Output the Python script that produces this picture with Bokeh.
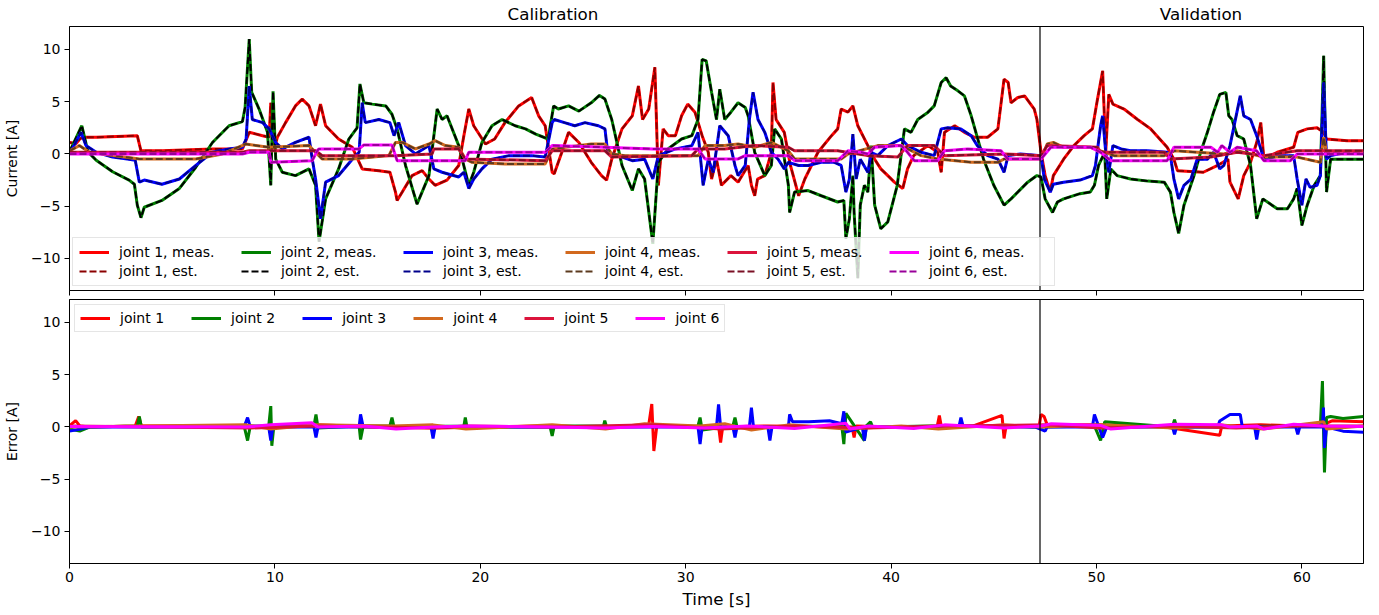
from bokeh.plotting import figure
from bokeh.models import Range1d, FixedTicker, Span, Legend, LegendItem, CustomLabelingPolicy, Div
from bokeh.layouts import column
from bokeh.embed import file_html
from bokeh.resources import INLINE

FONT = "DejaVu Sans"
T_END = 63.0
T_SPLIT = 47.25
Y_LO, Y_HI = -13.07, 12.2

panel_titles = ["Calibration", "Validation"]
joints = ["joint 1", "joint 2", "joint 3", "joint 4", "joint 5", "joint 6"]
meas_colors = ["#ff0000", "#008000", "#0000ff", "#d2691e", "#dc143c", "#ff00ff"]
est_colors = ["#8b0000", "#000000", "#00008b", "#5c3a1e", "#7b1025", "#990099"]
x_ticks = [0, 10, 20, 30, 40, 50, 60]
y_ticks = [-10, -5, 0, 5, 10]

meas_j1 = [(0,1.1),(0.32,1.0),(0.5,1.43),(0.65,1.6),(1.3,1.6),(3.3,1.75),(3.48,0.3),(4.5,0.3),(6.96,0.48),(8.42,0.48),(8.75,2.07),(9.4,1.75),(9.72,1.6),(9.8,4.9),(9.96,0.48),(10.12,1.6),(10.52,3.0),(11.0,4.6),(11.33,5.25),(11.66,4.6),(11.98,2.7),(12.22,4.77),(12.47,2.7),(13.1,1.43),(13.77,0.64),(14.25,-1.43),(15.06,-1.6),(15.6,-1.75),(15.87,-3.65),(15.95,-4.45),(16.2,-3.65),(16.68,-2.07),(17.17,-1.6),(17.5,-2.4),(17.8,-3.0),(18.38,-2.5),(18.95,-1.1),(19.2,1.75),(19.44,4.3),(19.68,2.7),(20.25,0.95),(20.7,1.43),(21.2,3.0),(21.87,4.6),(22.5,5.4),(22.84,3.65),(23.16,2.7),(23.5,-1.75),(23.6,-1.9),(23.97,0.16),(24.3,2.07),(24.8,1.1),(25.4,-0.8),(25.9,-2.07),(26.15,-2.5),(26.4,-0.5),(26.9,2.4),(27.4,3.65),(27.7,6.5),(27.9,3.3),(28.2,4.3),(28.5,8.3),(28.67,-3.0),(28.9,2.4),(29.15,1.75),(29.5,1.75),(29.8,3.65),(30.1,4.77),(30.45,4.0),(30.8,1.75),(31.1,0.16),(31.26,-2.4),(31.5,-0.5),(31.74,-3.0),(32.2,-2.07),(32.55,-2.7),(33.04,-1.1),(33.2,-3.0),(33.36,-4.0),(33.5,-2.4),(33.85,-2.07),(34.17,0.16),(34.25,6.84),(34.4,3.3),(34.8,2.07),(35.1,-1.1),(35.5,-4.0),(35.8,-2.4),(36.44,0.16),(37.1,1.75),(37.4,2.4),(37.57,4.3),(37.9,4.0),(38.14,4.6),(38.38,2.7),(38.87,0.8),(39.2,-0.5),(39.5,-1.43),(39.84,-2.07),(40.16,-2.7),(40.57,-3.3),(40.8,-1.43),(41.1,-0.16),(41.8,0.8),(42.27,0.16),(42.44,-1.75),(42.6,2.07),(43.1,2.7),(43.57,2.07),(44.05,1.6),(44.7,1.6),(45.2,2.4),(45.5,7.16),(45.7,6.84),(45.84,4.9),(46.17,5.4),(46.5,5.56),(46.97,4.3),(47.1,3.3),(47.3,0.16),(47.5,-2.07),(47.75,-3.65),(47.9,-2.07),(48.4,-0.5),(48.9,0.8),(49.4,1.75),(49.8,2.4),(50.05,5.25),(50.3,7.95),(50.45,0.16),(50.6,5.7),(50.8,4.77),(51.34,4.3),(52.0,3.3),(52.64,2.4),(53.44,0.64),(53.77,-0.5),(53.94,-1.6),(55.2,-1.75),(55.9,-1.1),(56.4,-0.5),(56.5,-2.7),(56.9,-4.3),(57.17,-2.07),(57.5,-0.8),(57.8,1.1),(58.0,3.0),(58.15,-0.5),(58.8,0.16),(59.6,0.64),(59.8,2.07),(60.26,2.4),(60.74,2.5),(61.06,2.07),(61.2,1.43),(62.2,1.27),(63,1.27)]
meas_j2 = [(0,0.2),(0.6,2.7),(0.9,0.2),(1.3,-0.6),(2.1,-1.7),(2.9,-2.5),(3.16,-2.9),(3.3,-4.9),(3.48,-6.1),(3.64,-5.1),(4.5,-4.45),(5.35,-3.3),(6.15,-1.27),(6.96,1.1),(7.77,2.7),(8.42,3.1),(8.55,4.45),(8.75,11.0),(8.87,5.9),(9.23,4.3),(9.64,2.07),(9.8,-3.0),(9.91,6.0),(10.04,-0.5),(10.36,-1.75),(11.0,-2.07),(11.66,-1.43),(11.98,-3.0),(12.15,-8.4),(12.47,-4.3),(13.1,-1.43),(13.6,1.43),(14.0,2.5),(14.14,6.7),(14.33,4.9),(14.74,4.77),(15.4,4.6),(15.7,3.8),(15.95,2.4),(16.36,-1.1),(16.92,-4.8),(17.5,-2.07),(17.9,4.3),(18.14,3.3),(18.38,3.65),(18.95,0.8),(19.44,-3.0),(19.68,-1.75),(20.08,1.1),(20.57,2.7),(21.06,3.3),(21.7,2.7),(22.2,2.4),(22.7,1.9),(23.3,1.43),(23.57,4.6),(23.8,4.3),(24.3,4.6),(24.8,4.1),(25.4,4.9),(25.8,5.6),(26.07,5.25),(26.4,3.3),(26.9,-1.1),(27.4,-3.5),(27.7,-1.43),(28.0,-2.4),(28.4,-8.6),(28.67,-0.8),(29.15,0.5),(29.8,1.43),(30.3,1.75),(30.6,3.3),(30.8,9.06),(31.0,8.9),(31.26,5.9),(31.5,3.3),(31.66,6.2),(31.9,3.3),(32.2,4.0),(32.55,4.9),(32.9,4.45),(33.04,3.65),(33.36,0.16),(33.85,-2.07),(34.17,-1.1),(34.33,2.4),(34.66,1.43),(35.0,-3.0),(35.06,-5.6),(35.3,-3.65),(35.96,-3.5),(36.6,-4.0),(37.4,-4.6),(37.7,-4.45),(37.8,-8.1),(37.97,-6.2),(38.14,-2.07),(38.2,-5.6),(38.38,-11.9),(38.5,-4.9),(38.7,-3.0),(38.87,-3.65),(39.03,0.8),(39.2,-4.9),(39.5,-7.16),(39.84,-6.5),(40.3,-3.0),(40.65,2.4),(40.97,2.07),(41.3,3.3),(41.8,4.0),(42.1,4.6),(42.44,6.84),(42.68,7.3),(42.9,6.5),(43.25,6.04),(43.57,5.56),(43.9,3.65),(44.5,-0.5),(45.0,-3.0),(45.5,-4.9),(45.84,-4.3),(46.65,-2.7),(47.1,-2.07),(47.3,-2.2),(47.5,-4.3),(47.86,-5.6),(48.1,-4.6),(48.4,-4.3),(49.2,-3.8),(49.7,-3.65),(49.9,-3.0),(50.1,-1.1),(50.4,0.16),(50.5,-4.3),(50.7,-1.43),(51.0,-2.07),(51.66,-2.4),(52.5,-2.6),(53.3,-2.7),(53.6,-3.65),(53.77,-5.6),(54.0,-7.6),(54.26,-4.9),(54.75,-2.07),(55.07,0.16),(55.4,2.07),(55.7,4.0),(56.0,5.7),(56.3,5.9),(56.44,3.65),(56.6,3.3),(56.85,1.75),(57.17,1.43),(57.5,-1.1),(57.8,-6.2),(58.1,-4.3),(58.8,-5.25),(59.3,-5.25),(59.6,-4.3),(59.77,-3.3),(60.0,-6.84),(60.26,-4.9),(60.6,-3.0),(60.9,-2.07),(61.06,9.4),(61.2,-3.65),(61.4,-0.5),(62.2,-0.5),(63,-0.5)]
meas_j3 = [(0,0.0),(0.56,2.07),(0.8,0.8),(1.3,0.16),(2.1,-0.3),(2.9,-0.5),(3.2,-0.6),(3.4,-2.7),(3.64,-2.5),(4.5,-2.9),(5.35,-2.4),(6.15,-1.1),(6.96,0.16),(7.77,0.48),(8.42,0.64),(8.6,1.43),(8.75,6.5),(8.9,3.3),(9.4,3.0),(9.72,2.4),(10.04,1.1),(10.36,0.48),(11.0,1.1),(11.66,1.6),(11.82,-0.5),(11.98,-2.4),(12.22,-6.2),(12.47,-2.7),(13.1,-2.07),(13.77,-0.5),(14.1,0.16),(14.25,4.9),(14.4,3.0),(15.06,3.3),(15.6,3.0),(15.8,1.75),(16.03,3.0),(16.36,0.8),(16.84,0.0),(17.5,0.8),(17.74,-1.43),(18.14,-1.75),(18.95,-2.2),(19.2,-1.75),(19.44,-3.3),(19.68,-2.4),(20.08,-1.43),(20.57,-0.5),(21.4,-0.16),(22.5,-0.16),(23.16,-0.3),(23.5,3.0),(23.6,3.3),(24.1,3.0),(24.6,2.7),(25.1,3.0),(25.75,2.7),(26.07,2.4),(26.2,0.16),(26.7,-0.16),(27.4,-0.64),(28.0,-0.5),(28.4,-2.4),(28.67,-0.16),(29.5,0.48),(30.3,0.8),(30.6,2.07),(30.85,-3.0),(31.1,-0.5),(31.34,-1.75),(31.66,2.7),(32.07,1.75),(32.4,-1.1),(32.55,-2.07),(32.9,-1.1),(33.1,3.3),(33.28,5.9),(33.52,3.3),(33.85,2.07),(34.17,0.16),(34.5,-0.5),(34.8,-1.43),(35.0,-0.8),(35.5,-1.1),(35.96,-1.1),(36.6,-0.8),(37.24,-0.8),(37.57,-1.1),(37.8,-3.65),(37.97,-2.4),(38.14,1.9),(38.3,-2.4),(38.5,-0.5),(38.87,-1.75),(39.03,0.16),(39.35,-0.16),(39.84,0.8),(40.5,1.43),(40.8,0.8),(41.46,0.16),(42.1,-0.16),(42.44,2.4),(42.76,2.5),(43.4,2.4),(43.9,1.75),(44.2,0.8),(44.7,-0.16),(45.2,-0.5),(45.5,-1.75),(45.7,-0.16),(46.3,0.0),(47.3,-0.16),(47.46,-2.4),(47.75,-3.65),(47.9,-2.9),(48.4,-2.7),(49.2,-2.5),(49.8,-2.07),(49.95,-1.1),(50.2,2.7),(50.3,3.65),(50.45,0.16),(50.6,-1.75),(50.8,0.8),(51.2,0.48),(51.66,0.3),(52.5,0.3),(53.44,0.16),(53.6,-0.16),(53.77,-2.4),(54.0,-4.3),(54.26,-3.0),(54.6,-2.4),(54.9,-0.5),(55.4,-0.5),(55.7,0.16),(56.0,-1.43),(56.2,-1.1),(56.5,0.8),(56.8,3.65),(57.0,5.56),(57.17,3.65),(57.5,3.3),(57.8,1.75),(58.15,-0.5),(58.97,-0.16),(59.6,-0.16),(59.77,-2.4),(60.0,-4.9),(60.2,-2.4),(60.4,-3.2),(60.74,-3.0),(60.9,-2.07),(61.06,6.84),(61.2,-0.5),(61.4,-0.16),(62.2,0.16),(63,0.16)]
meas_j4 = [(0,0.3),(0.48,0.8),(0.97,0.16),(3.4,-0.48),(6.15,-0.48),(7.45,0.0),(8.58,0.95),(9.7,0.64),(11.66,0.8),(12.3,-0.48),(13.77,-0.48),(15.55,-0.16),(15.87,1.1),(16.2,1.1),(16.84,0.48),(17.5,0.95),(17.8,1.27),(18.3,0.8),(18.95,0.64),(19.27,-0.48),(19.6,-0.8),(21.2,-0.95),(23.16,-0.95),(23.5,0.48),(25.4,0.95),(26.07,0.95),(26.4,0.0),(27.05,-0.16),(30.6,-0.16),(30.94,0.8),(31.9,0.8),(32.55,0.95),(33.36,0.64),(34.17,1.1),(35.0,0.3),(35.3,-0.48),(37.57,-0.48),(37.9,0.0),(39.35,0.8),(40.5,0.8),(41.46,-0.16),(42.27,-0.48),(43.9,-0.8),(45.2,-0.8),(45.5,-0.48),(47.3,-0.48),(47.6,0.95),(47.9,1.1),(48.4,0.64),(49.7,0.64),(50.2,0.3),(50.86,-0.16),(53.3,-0.16),(53.8,0.3),(56.2,0.0),(56.85,0.3),(58.15,-0.3),(59.77,-0.3),(60.9,-0.8),(61.06,1.6),(61.2,0.16),(63,0.16)]
meas_j5 = [(0,0.16),(8.42,0.16),(8.75,0.3),(12.0,0.3),(12.3,-0.16),(15.87,-0.16),(17.65,0.0),(17.74,0.48),(18.95,0.48),(19.27,-0.48),(23.16,-0.64),(23.5,0.3),(26.07,0.3),(26.4,-0.3),(30.3,-0.16),(30.6,0.48),(31.9,0.48),(33.36,0.8),(35.0,0.64),(35.3,0.3),(37.4,0.3),(38.87,-0.16),(40.33,-0.3),(40.8,0.8),(42.1,0.8),(42.6,-0.16),(45.5,0.0),(47.3,-0.16),(47.6,0.8),(50.05,0.64),(50.2,0.16),(53.3,0.16),(53.6,-0.48),(55.57,-0.3),(56.85,0.16),(58.15,-0.16),(59.77,0.3),(63,0.3)]
meas_j6 = [(0,0.0),(8.42,0.0),(8.75,0.16),(9.72,0.16),(9.8,-0.8),(11.82,-0.64),(12.06,0.3),(12.14,0.48),(14.1,0.48),(14.33,0.86),(15.7,0.86),(15.95,-0.64),(17.65,-0.64),(19.27,-0.64),(19.44,0.16),(23.16,0.16),(23.5,0.8),(26.07,0.64),(28.4,0.48),(30.6,0.48),(30.94,-0.48),(32.55,-0.48),(32.9,-0.16),(35.0,-0.16),(35.3,-0.64),(37.4,-0.64),(37.9,0.3),(38.55,0.16),(38.87,0.0),(39.2,0.64),(40.5,0.8),(40.8,0.16),(41.13,-0.64),(42.27,-0.64),(42.6,0.3),(43.73,0.48),(45.35,0.3),(45.68,-0.48),(47.3,-0.48),(47.78,0.64),(49.7,0.64),(50.2,0.16),(50.7,-0.64),(53.44,-0.64),(53.77,0.64),(55.57,0.64),(55.9,0.16),(56.1,0.8),(56.5,0.16),(56.85,0.64),(57.8,0.3),(58.15,-0.64),(59.44,-0.64),(59.77,0.0),(63,0.0)]

# estimated currents: the model output lies on top of the measurement in the chart
est_j1 = meas_j1
est_j2 = meas_j2
est_j3 = meas_j3
est_j4 = meas_j4
est_j5 = meas_j5
est_j6 = meas_j6

# estimation errors (time [s], error [A])
err_j1 = [(0,0.1),(0.3,0.6),(0.5,0.1),(1.0,0.0),(3.2,0.1),(3.37,1.0),(3.5,0.1),(6.0,0.1),(8.5,0.0),(12.0,0.2),(15.0,0.0),(18.0,-0.1),(20.0,0.0),(23.0,0.1),(26.0,0.0),(28.2,0.2),(28.35,2.2),(28.45,-2.3),(28.6,0.2),(30.0,0.0),(31.6,0.1),(31.7,-1.5),(31.8,0.0),(34.0,0.1),(38.1,0.0),(38.2,-1.0),(38.3,0.1),(40.0,0.0),(42.25,0.1),(42.35,1.1),(42.45,0.0),(44.0,0.1),(45.4,1.1),(45.5,-1.1),(45.6,0.1),(47.2,0.0),(47.3,1.2),(47.45,1.0),(47.6,0.2),(50.0,0.2),(53.0,0.1),(56.0,-0.8),(56.1,0.1),(58.0,0.2),(60.0,0.1),(61.0,0.2),(61.5,0.6),(63.0,0.5)]
err_j2 = [(0,-0.2),(0.5,-0.4),(1.0,0.0),(3.3,0.1),(3.4,1.0),(3.5,0.0),(6.0,0.1),(8.5,0.1),(8.67,-1.3),(8.8,0.1),(9.7,0.1),(9.8,2.0),(9.85,-1.8),(9.95,0.1),(11.9,0.1),(12.0,1.2),(12.1,-0.1),(14.1,0.1),(14.17,-1.2),(14.3,0.1),(15.6,0.1),(15.7,0.9),(15.8,0.0),(19.2,0.1),(19.27,0.9),(19.35,0.0),(23.4,0.0),(23.5,-0.85),(23.6,0.1),(26.0,0.1),(26.06,0.6),(26.15,0.0),(30.6,0.1),(30.7,0.9),(30.8,-0.3),(32.3,0.1),(32.4,0.9),(32.5,0.0),(37.6,0.1),(37.7,-1.65),(37.8,1.3),(38.7,-1.3),(38.8,0.1),(39.0,0.5),(39.1,0.0),(42.0,0.1),(47.3,0.0),(49.9,0.1),(50.2,-1.3),(50.4,0.5),(53.7,0.0),(53.8,0.7),(53.9,0.0),(60.9,0.1),(61.0,4.4),(61.1,-4.35),(61.2,0.9),(61.4,1.0),(62.0,0.8),(63.0,1.0)]
err_j3 = [(0,-0.4),(0.3,-0.3),(1.0,0.0),(8.5,0.0),(8.67,0.9),(8.8,0.0),(9.7,0.0),(9.8,-1.3),(9.9,0.0),(11.9,0.0),(12.0,-1.0),(12.1,0.0),(14.1,0.0),(14.17,1.2),(14.3,0.0),(17.6,0.0),(17.7,-1.1),(17.8,0.0),(30.6,0.0),(30.7,-1.65),(30.8,0.0),(31.5,0.0),(31.6,2.15),(31.7,0.0),(32.3,0.0),(32.4,-1.0),(32.5,0.0),(33.1,0.0),(33.2,1.85),(33.3,0.0),(34.0,0.0),(34.1,-1.3),(34.2,0.0),(35.0,0.0),(35.06,1.2),(35.2,0.5),(36.0,0.5),(37.0,0.6),(37.6,0.3),(37.7,1.5),(37.8,-0.5),(38.6,0.0),(38.7,-1.3),(38.8,0.0),(43.3,0.0),(43.4,0.9),(43.5,0.1),(47.0,0.0),(47.5,-0.4),(47.6,0.0),(49.8,0.0),(49.9,1.2),(50.3,-1.0),(50.5,0.0),(53.7,0.0),(53.8,-0.7),(53.9,0.0),(55.9,0.0),(56.0,0.57),(56.5,1.2),(57.0,1.2),(57.1,0.0),(57.7,0.0),(57.8,-1.2),(57.9,0.0),(59.7,0.0),(59.8,-0.7),(59.9,0.0),(61.0,0.0),(61.05,1.85),(61.1,-2.0),(61.2,0.0),(62.0,-0.4),(63.0,-0.5)]
err_j4 = [(0,0.0),(3.4,0.1),(8.6,0.2),(9.8,-0.2),(12.0,0.2),(15.7,0.1),(17.7,0.2),(19.3,-0.2),(23.5,0.2),(26.1,-0.2),(28.0,0.3),(30.7,0.1),(31.9,0.3),(33.2,-0.3),(35.0,0.2),(37.8,-0.2),(40.5,0.1),(42.3,-0.2),(45.5,0.2),(47.3,0.0),(50.2,0.2),(53.8,-0.1),(56.0,0.2),(58.1,-0.2),(61.06,0.5),(61.2,-0.2),(63,0.1)]
err_j5 = [(0,0.1),(8.8,-0.1),(12.0,0.1),(17.7,-0.1),(19.3,0.1),(23.5,0.0),(28.4,0.2),(31.7,-0.2),(35.3,0.1),(38.9,-0.1),(42.6,0.1),(47.6,0.2),(50.2,-0.1),(53.6,0.1),(56.8,-0.1),(59.8,0.1),(63,0.1)]
err_j6 = [(0,0.05),(8.6,0.0),(9.8,0.2),(11.8,0.4),(12.1,0.0),(14.3,0.1),(15.9,-0.2),(17.7,0.0),(19.4,0.1),(23.5,0.0),(26.0,-0.1),(28.4,0.05),(30.9,-0.1),(33.0,0.1),(35.3,-0.15),(37.8,0.35),(38.0,-0.2),(38.9,0.1),(41.1,-0.15),(42.6,0.2),(45.5,-0.1),(47.3,0.1),(47.8,0.3),(50.2,0.15),(50.7,-0.2),(53.8,0.25),(56.1,0.2),(56.5,0.0),(57.8,0.1),(58.15,-0.2),(59.6,0.25),(61.0,0.1),(63,0.05)]

meas_all = [meas_j1, meas_j2, meas_j3, meas_j4, meas_j5, meas_j6]
est_all = [est_j1, est_j2, est_j3, est_j4, est_j5, est_j6]
err_all = [err_j1, err_j2, err_j3, err_j4, err_j5, err_j6]

# layout (pixels)
FIG_W = 1371
BORDER_L = 67
BORDER_R = 8
FRAME_W = FIG_W - BORDER_L - BORDER_R
TITLE_H = 26


def xs(pts):
    return [p[0] for p in pts]


def ys(pts):
    return [p[1] for p in pts]


def style(p, show_xlabels):
    p.outline_line_color = "black"
    p.outline_line_width = 1
    p.xgrid.visible = False
    p.ygrid.visible = False
    p.background_fill_color = "white"
    p.border_fill_color = "white"
    for ax in (p.xaxis[0], p.yaxis[0]):
        ax.axis_line_color = "black"
        ax.major_tick_line_color = "black"
        ax.major_tick_out = 5
        ax.major_tick_in = 0
        ax.minor_tick_out = 0
        ax.minor_tick_in = 0
        ax.major_label_text_font = FONT
        ax.major_label_text_font_size = "14px"
        ax.major_label_text_color = "black"
        ax.axis_label_text_font = FONT
        ax.axis_label_text_font_style = "normal"
        ax.axis_label_text_color = "black"
    p.xaxis[0].ticker = FixedTicker(ticks=x_ticks)
    p.yaxis[0].ticker = FixedTicker(ticks=y_ticks)
    p.yaxis[0].major_label_overrides = {-10: "\u221210", -5: "\u22125"}
    p.yaxis[0].major_label_standoff = 4
    p.yaxis[0].axis_label_text_font_size = "14px"
    p.yaxis[0].axis_label_standoff = 8
    if not show_xlabels:
        p.xaxis[0].major_label_policy = CustomLabelingPolicy(code="return []")
        p.xaxis[0].major_label_text_font_size = "1px"
        p.xaxis[0].major_label_standoff = 0
    else:
        p.xaxis[0].major_label_standoff = 3
    p.add_layout(Span(location=T_SPLIT, dimension="height", line_color="black", line_width=1.2))


# ---------- panel titles (centered over each time section) ----------
centers = [BORDER_L + (T_SPLIT / 2) / T_END * FRAME_W,
           BORDER_L + ((T_SPLIT + T_END) / 2) / T_END * FRAME_W]
spans = "".join(
    f'<span style="position:absolute;left:{c:.1f}px;top:4px;transform:translateX(-50%);'
    f'white-space:nowrap;line-height:20px;">{t}</span>'
    for t, c in zip(panel_titles, centers))
title_div = Div(
    text=(f'<div style="position:relative;width:{FIG_W}px;height:{TITLE_H}px;'
          f"font-family:'{FONT}';font-size:16.7px;color:black;\">{spans}</div>"),
    width=FIG_W, height=TITLE_H, margin=0)

# ---------- top: currents ----------
p1 = figure(width=FIG_W, height=273, x_range=Range1d(0, T_END), y_range=Range1d(Y_LO, Y_HI),
            output_backend="svg", toolbar_location=None, title=None,
            min_border_left=BORDER_L, min_border_right=BORDER_R, min_border_top=0, min_border_bottom=7)
style(p1, False)
p1.yaxis[0].axis_label = "Current [A]"

items1 = []
for j in range(6):
    rm = p1.line(xs(meas_all[j]), ys(meas_all[j]), line_color=meas_colors[j], line_width=3)
    re = p1.line(xs(est_all[j]), ys(est_all[j]), line_color=est_colors[j], line_width=2, line_dash="7 3")
    items1.append(LegendItem(label=joints[j] + ", meas.", renderers=[rm]))
    items1.append(LegendItem(label=joints[j] + ", est.", renderers=[re]))

leg1 = Legend(items=items1, location=(3, 4), ncols=6, orientation="vertical",
              label_text_font=FONT, label_text_font_size="14px", label_text_color="black",
              glyph_width=30, glyph_height=16, label_height=16, label_width=119,
              label_standoff=10, spacing=3, padding=6, margin=0,
              background_fill_color="white", background_fill_alpha=0.8,
              border_line_color="#cccccc", border_line_width=1)
p1.add_layout(leg1)

# ---------- bottom: errors ----------
p2 = figure(width=FIG_W, height=314, x_range=p1.x_range, y_range=Range1d(Y_LO, Y_HI),
            output_backend="svg", toolbar_location=None, title=None,
            min_border_left=BORDER_L, min_border_right=BORDER_R, min_border_top=0, min_border_bottom=50)
style(p2, True)
p2.yaxis[0].axis_label = "Error [A]"
p2.xaxis[0].axis_label = "Time [s]"
p2.xaxis[0].axis_label_text_font_size = "16.7px"
p2.xaxis[0].axis_label_standoff = 4

items2 = []
for j in range(6):
    r = p2.line(xs(err_all[j]), ys(err_all[j]), line_color=meas_colors[j], line_width=3)
    items2.append(LegendItem(label=joints[j], renderers=[r]))

leg2 = Legend(items=items2, location="top_left", orientation="horizontal",
              label_text_font=FONT, label_text_font_size="14px", label_text_color="black",
              glyph_width=30, glyph_height=14, label_height=14,
              label_standoff=10, spacing=27, padding=5, margin=5,
              background_fill_color="white", background_fill_alpha=0.8,
              border_line_color="#cccccc", border_line_width=1)
p2.add_layout(leg2)

layout = column(title_div, p1, p2, spacing=0)
open("out.html", "w").write(file_html(layout, INLINE))
